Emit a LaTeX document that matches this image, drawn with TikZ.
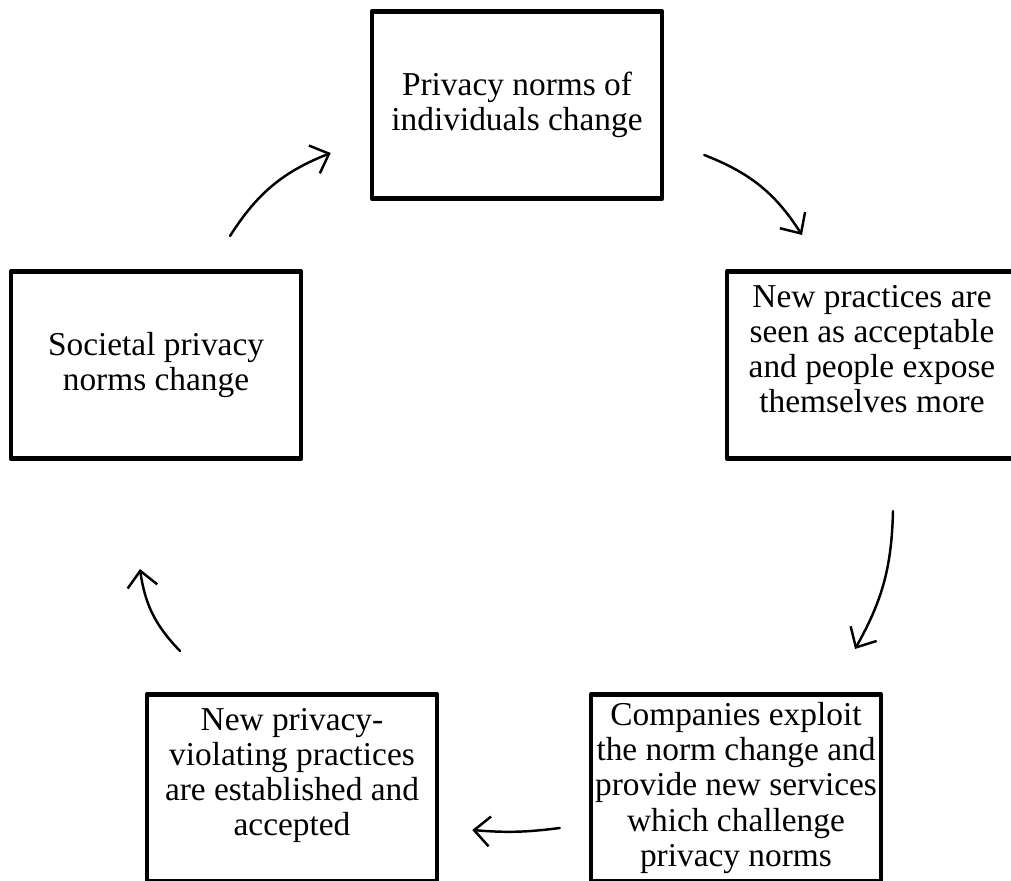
\documentclass[tikz,border=0pt]{standalone}
\usepackage{fontspec}
\setmainfont{Liberation Serif}
\usetikzlibrary{arrows.meta}
\begin{document}
\begin{tikzpicture}[x=0.02cm,y=-0.02cm,line join=round,line cap=round,
	>={Straight Barb[length=9pt,width=17pt]},
	font=\fontsize{19}{20}\selectfont,
	box/.style={draw,line width=2.6pt,minimum width=5.8cm,minimum height=3.75cm,align=center,inner sep=0pt},
	cyc/.style={->,line width=1.4pt}]
	\useasboundingbox (0,0) rectangle (1011,881);
	\clip (0,0) rectangle (1011,881);
	% the five boxes of the cycle
	\node[box] (T) at (517,105) {Privacy norms of\\individuals change};
	\node[box,text depth=18pt] (R) at (872,365) {New practices are\\seen as acceptable\\and people expose\\themselves more};
	\node[box] (BR) at (736,788) {Companies exploit\\the norm change and\\provide new services\\which challenge\\privacy norms};
	\node[box,text depth=18pt] (BL) at (292,788) {New privacy-\\violating practices\\are established and\\accepted};
	\node[box] (L) at (156,365) {Societal privacy\\norms change};
	% arrows between them
	\draw[cyc] ([shift={(74,-33)}]L.north) to[bend left=18] ([shift={(-39,48)}]T.west);
	\draw[cyc] ([shift={(40,50)}]T.east) to[bend left=18] ([shift={(-70,-34)}]R.north);
	\draw[cyc] ([shift={(21,50)}]R.south) to[bend left=14] ([shift={(119,-43)}]BR.north);
	\draw[cyc] ([shift={(-29,40)}]BR.west) to[bend left=6] ([shift={(33,42)}]BL.east);
	\draw[cyc] ([shift={(-112,-41)}]BL.north) to[bend left=18] ([shift={(-16,108)}]L.south);
\end{tikzpicture}
\end{document}
